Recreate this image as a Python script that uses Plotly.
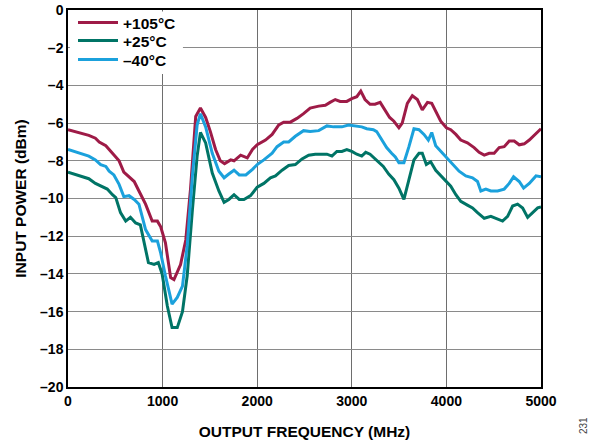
import plotly.graph_objects as go

freq_105 = [0, 115, 220, 290, 330, 400, 470, 540, 590, 645, 700, 750, 820, 890, 945, 980, 1030, 1085, 1120, 1190, 1245, 1295, 1350, 1400, 1455, 1505, 1560, 1610, 1655, 1720, 1755, 1825, 1895, 1950, 2000, 2088, 2158, 2228, 2280, 2350, 2420, 2490, 2560, 2650, 2720, 2770, 2825, 2877, 2947, 3000, 3053, 3095, 3140, 3193, 3245, 3300, 3350, 3400, 3445, 3498, 3533, 3587, 3640, 3693, 3745, 3800, 3845, 3887, 3940, 4000, 4046, 4100, 4152, 4222, 4293, 4346, 4400, 4452, 4505, 4558, 4611, 4664, 4717, 4770, 4823, 4876, 4929, 5000]
pwr_105 = [-6.35, -6.5, -6.65, -6.8, -7.0, -7.2, -7.6, -8.0, -8.6, -8.85, -9.1, -9.6, -10.3, -11.2, -11.2, -11.5, -12.35, -14.2, -14.3, -13.5, -12.2, -9.5, -5.65, -5.2, -5.7, -6.45, -7.4, -8.0, -8.15, -7.95, -8.0, -7.7, -7.85, -7.4, -7.15, -6.9, -6.6, -6.1, -5.95, -5.95, -5.75, -5.5, -5.2, -5.1, -5.05, -4.9, -4.75, -4.85, -4.85, -4.7, -4.6, -4.3, -4.75, -5.0, -5.0, -4.9, -5.3, -5.7, -5.9, -6.25, -6.0, -4.95, -4.55, -4.75, -5.3, -4.9, -4.95, -5.4, -5.9, -6.25, -6.35, -6.6, -6.9, -7.05, -7.3, -7.55, -7.7, -7.6, -7.6, -7.3, -7.25, -6.95, -6.95, -7.15, -7.1, -6.9, -6.65, -6.3]

freq_25 = [0, 115, 220, 290, 345, 415, 470, 505, 555, 610, 660, 715, 765, 800, 850, 910, 955, 995, 1050, 1100, 1155, 1210, 1260, 1315, 1365, 1400, 1455, 1525, 1595, 1650, 1700, 1755, 1810, 1860, 1930, 2000, 2070, 2140, 2193, 2263, 2333, 2403, 2474, 2544, 2614, 2684, 2737, 2790, 2842, 2895, 2947, 3000, 3053, 3105, 3147, 3193, 3263, 3333, 3390, 3445, 3498, 3551, 3604, 3657, 3710, 3745, 3788, 3834, 3887, 3940, 4000, 4046, 4100, 4152, 4222, 4276, 4329, 4400, 4470, 4541, 4594, 4647, 4700, 4753, 4806, 4859, 4912, 4965, 5000]
pwr_25 = [-8.6, -8.8, -8.95, -9.2, -9.35, -9.5, -9.8, -9.95, -10.75, -11.2, -11.0, -11.3, -11.4, -12.2, -13.4, -13.5, -13.4, -14.0, -15.7, -16.85, -16.85, -16.0, -14.1, -10.6, -7.75, -6.5, -7.05, -8.65, -9.6, -10.2, -10.05, -9.8, -10.05, -10.05, -9.85, -9.4, -9.2, -8.9, -8.8, -8.5, -8.25, -8.2, -7.9, -7.7, -7.65, -7.65, -7.65, -7.75, -7.5, -7.5, -7.4, -7.5, -7.65, -7.75, -7.55, -7.65, -8.0, -8.3, -8.7, -9.0, -9.45, -10.05, -9.0, -7.95, -7.6, -7.6, -8.2, -8.05, -8.5, -8.8, -9.1, -9.35, -9.8, -10.15, -10.35, -10.5, -10.75, -11.05, -10.95, -11.1, -11.2, -10.95, -10.4, -10.3, -10.5, -11.0, -10.75, -10.5, -10.45]

freq_m40 = [0, 115, 220, 290, 345, 400, 435, 485, 540, 590, 645, 700, 750, 820, 890, 945, 980, 1030, 1100, 1155, 1210, 1260, 1315, 1365, 1400, 1455, 1525, 1595, 1650, 1700, 1755, 1810, 1880, 1950, 2000, 2070, 2158, 2210, 2280, 2333, 2403, 2490, 2560, 2650, 2737, 2807, 2895, 2965, 3035, 3105, 3158, 3228, 3263, 3316, 3368, 3421, 3460, 3498, 3551, 3604, 3657, 3710, 3763, 3809, 3845, 3887, 3940, 4000, 4064, 4134, 4205, 4276, 4329, 4364, 4417, 4470, 4541, 4611, 4664, 4710, 4770, 4816, 4876, 4947, 5000]
pwr_m40 = [-7.4, -7.6, -7.75, -7.95, -8.2, -8.3, -8.55, -8.75, -9.25, -9.9, -9.85, -10.05, -10.3, -11.65, -12.25, -12.25, -12.9, -14.1, -15.6, -15.25, -14.65, -12.5, -8.8, -6.1, -5.5, -6.2, -7.6, -8.55, -8.9, -8.7, -8.5, -8.75, -8.75, -8.45, -8.2, -7.95, -7.6, -7.25, -7.0, -7.0, -6.7, -6.4, -6.45, -6.4, -6.15, -6.2, -6.2, -6.1, -6.15, -6.2, -6.3, -6.35, -6.45, -6.9, -7.3, -7.6, -7.8, -8.1, -8.1, -7.25, -6.3, -6.35, -6.6, -6.9, -6.5, -7.2, -7.5, -7.85, -8.2, -8.55, -8.8, -8.9, -9.1, -9.6, -9.5, -9.6, -9.6, -9.5, -9.2, -8.85, -9.1, -9.45, -9.2, -8.8, -8.85]

x_ticks = [0, 1000, 2000, 3000, 4000, 5000]
y_ticks = [0, -2, -4, -6, -8, -10, -12, -14, -16, -18, -20]
y_tick_labels = ["0", "–2", "–4", "–6", "–8", "–10", "–12", "–14", "–16", "–18", "–20"]

series = [
    ("+105°C", freq_105, pwr_105, "#9E1B47"),
    ("+25°C", freq_25, pwr_25, "#007466"),
    ("–40°C", freq_m40, pwr_m40, "#1BA1DC"),
]

W, H = 600, 444
L, T = 68, 10
PW, PH = 473, 377
font_fam = "Liberation Sans, Arial, sans-serif"

legend_names = ["legend", "legend2", "legend3"]
legend_rows_px = [23, 41, 60]  # vertical centre of each legend entry (page px)

fig = go.Figure()
for (name, xs, ys, col), lg in zip(series, legend_names):
    fig.add_trace(go.Scatter(x=xs, y=ys, mode="lines", name=name, legend=lg,
                             line=dict(color=col, width=3)))

legend_layout = {}
for lg, row in zip(legend_names, legend_rows_px):
    legend_layout[lg] = dict(
        x=(73 - L) / PW, y=1 - (row - T) / PH, xanchor="left", yanchor="middle",
        bgcolor="rgba(0,0,0,0)", borderwidth=0,
        font=dict(family=font_fam, size=15.5, color="black", weight="bold"),
        itemwidth=40, tracegroupgap=0)

fig.update_layout(
    width=W, height=H,
    margin=dict(l=L, r=W - L - PW, t=T, b=H - T - PH, autoexpand=False),
    paper_bgcolor="white", plot_bgcolor="white",
    font=dict(family=font_fam, color="black", size=14),
    showlegend=True,
    xaxis=dict(range=[0, 5000], tickvals=x_ticks, ticktext=[str(v) for v in x_ticks],
               showgrid=True, gridcolor="#6e6e6e", gridwidth=1,
               showline=True, linecolor="black", linewidth=1.5, mirror=True,
               ticks="", zeroline=False, automargin=False,
               tickfont=dict(family=font_fam, size=14, weight="bold"),
               title=dict(text="<b>OUTPUT FREQUENCY (MHz)</b>", font=dict(size=15.5), standoff=19)),
    yaxis=dict(range=[-20, 0], tickvals=y_ticks, ticktext=y_tick_labels,
               showgrid=True, gridcolor="#8a8a8a", gridwidth=1,
               showline=True, linecolor="black", linewidth=1.5, mirror=True,
               ticks="", zeroline=False, automargin=False,
               tickfont=dict(family=font_fam, size=14, weight="bold"),
               title=dict(text="<b>INPUT POWER (dBm)</b>", font=dict(size=15.5), standoff=10)),
    **legend_layout,
)

# white patch behind the legend, hiding the gridlines there (no data in this corner)
fig.add_shape(type="rect", xref="x domain", yref="y domain",
              x0=0.004, x1=0.243, y0=0.83, y1=0.996,
              fillcolor="white", line=dict(width=0), layer="above")

fig.add_annotation(text="231", xref="paper", yref="paper",
                   x=(583 - L) / PW, y=(T + PH - 426) / PH,
                   xanchor="center", yanchor="middle", showarrow=False,
                   textangle=-90, font=dict(size=10, color="#444"))

fig.write_html("out.html", config={"displayModeBar": False},
               post_script="document.body.style.margin='0';")
